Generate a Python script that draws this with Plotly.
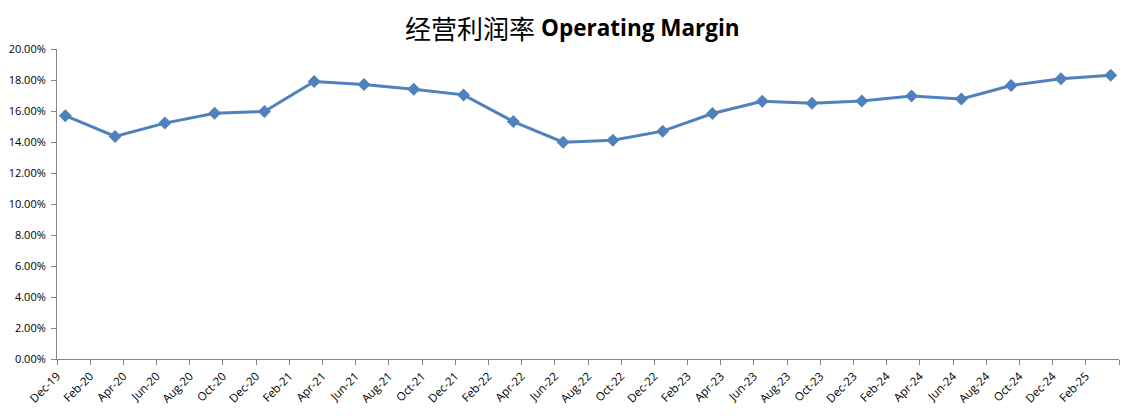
import plotly.graph_objects as go

title_cn = "经营利润率"
title_en = "Operating Margin"
periods = ["Dec-19", "Mar-20", "Jun-20", "Sep-20", "Dec-20", "Mar-21", "Jun-21", "Sep-21",
           "Dec-21", "Mar-22", "Jun-22", "Sep-22", "Dec-22", "Mar-23", "Jun-23", "Sep-23",
           "Dec-23", "Mar-24", "Jun-24", "Sep-24", "Dec-24", "Mar-25"]
operating_margin = [0.1570, 0.1436, 0.1522, 0.1586, 0.1597, 0.1790, 0.1771, 0.1741,
                    0.1704, 0.1532, 0.1399, 0.1412, 0.1470, 0.1584, 0.1663, 0.1650,
                    0.1664, 0.1696, 0.1677, 0.1765, 0.1808, 0.1831]
tick_labels = ["Dec-19", "Feb-20", "Apr-20", "Jun-20", "Aug-20", "Oct-20", "Dec-20", "Feb-21",
               "Apr-21", "Jun-21", "Aug-21", "Oct-21", "Dec-21", "Feb-22", "Apr-22", "Jun-22",
               "Aug-22", "Oct-22", "Dec-22", "Feb-23", "Apr-23", "Jun-23", "Aug-23", "Oct-23",
               "Dec-23", "Feb-24", "Apr-24", "Jun-24", "Aug-24", "Oct-24", "Dec-24", "Feb-25"]
y_ticks = [0, 0.02, 0.04, 0.06, 0.08, 0.10, 0.12, 0.14, 0.16, 0.18, 0.20]

MONTHS = {"Jan": 1, "Feb": 2, "Mar": 3, "Apr": 4, "May": 5, "Jun": 6, "Jul": 7,
          "Aug": 8, "Sep": 9, "Oct": 10, "Nov": 11, "Dec": 12}


def month_index(label):
    m, y = label.split("-")
    return (2000 + int(y) - 2019) * 12 + MONTHS[m] - 12


x_pts = [month_index(p) + 0.5 for p in periods]
tick_vals = [month_index(t) for t in tick_labels] + [month_index("Mar-25") + 1]
tick_text = tick_labels + [""]

fig = go.Figure()
fig.add_trace(go.Scatter(
    x=x_pts, y=operating_margin, mode="lines+markers",
    line=dict(color="#4F81BD", width=3),
    marker=dict(symbol="diamond", size=10, color="#4F81BD"),
    customdata=periods,
    hovertemplate="%{customdata}: %{y:.2%}<extra></extra>",
))

fig.add_annotation(
    text=title_cn, xref="paper", yref="paper", x=0.4519, y=1.068,
    xanchor="right", yanchor="middle", showarrow=False,
    font=dict(family="Noto Sans CJK SC", size=26, color="black"),
)
fig.add_annotation(
    text="<b>" + title_en + "</b>", xref="paper", yref="paper", x=0.4539, y=1.068,
    xanchor="left", yanchor="middle", showarrow=False,
    font=dict(family="Open Sans", size=22.5, color="black"),
)

fig.update_layout(
    width=1139, height=419,
    margin=dict(l=49, r=28, t=41, b=68),
    plot_bgcolor="white", paper_bgcolor="white",
    showlegend=False,
    xaxis=dict(
        range=[0, month_index("Mar-25") + 1],
        tickmode="array", tickvals=tick_vals, ticktext=tick_text,
        tickangle=-45, ticks="outside", ticklen=5, tickcolor="#868686",
        showline=True, linecolor="#868686", linewidth=1,
        showgrid=False, zeroline=False, automargin=False,
        tickfont=dict(family="Open Sans", size=11.5, color="black"),
    ),
    yaxis=dict(
        range=[0, 0.20], tickvals=y_ticks, tickformat=".2%",
        ticks="outside", ticklen=5, tickcolor="#868686",
        ticklabelstandoff=3, automargin=False,
        showline=True, linecolor="#868686", linewidth=1,
        showgrid=False, zeroline=False,
        tickfont=dict(family="Open Sans", size=11, color="black"),
    ),
)

fig.write_html("out.html")
